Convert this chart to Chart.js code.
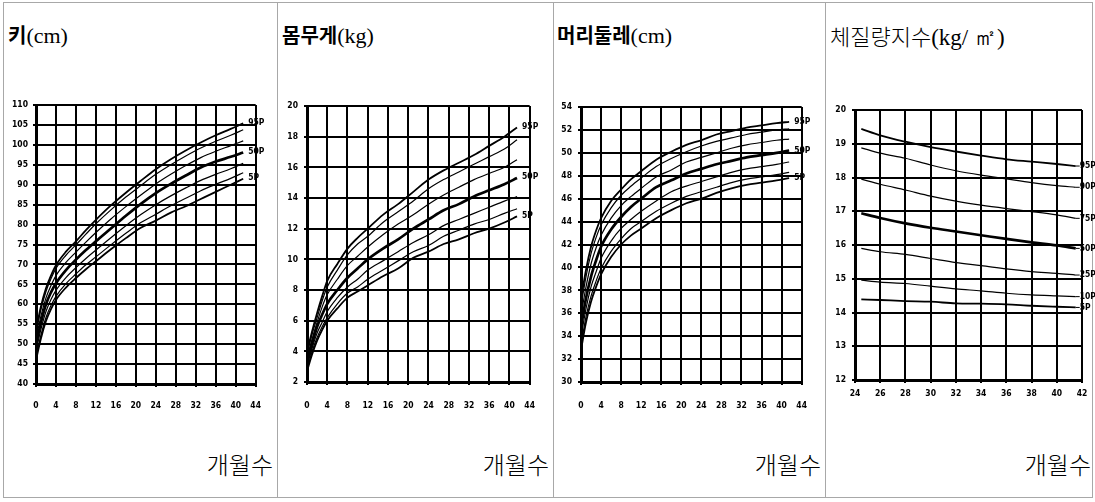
<!DOCTYPE html>
<html lang="ko">
<head>
<meta charset="utf-8">
<title>성장곡선</title>
<script src="https://cdn.jsdelivr.net/npm/chart.js@4.4.1/dist/chart.umd.min.js"></script>
<style>
  html, body { margin: 0; padding: 0; background: #fff; }
  body { position: relative; width: 1095px; height: 502px; overflow: hidden; }
  .frame { position: absolute; left: 3px; top: 2px; width: 1088px; height: 494px; border: 1px solid #a8a8a8; }
  .divider { position: absolute; top: 2px; width: 1px; height: 496px; background: #a8a8a8; }
  .title { position: absolute; top: 21px; white-space: nowrap; color: #000; line-height: 28px; }
  .title .ko { font-family: "Noto Sans CJK KR", sans-serif; font-weight: 700; font-size: 20px; }
  .title .unit { font-family: "Liberation Serif", serif; font-size: 22px; }
  .title.thin .ko { font-weight: 300; font-size: 22px; }
  .title.thin .unit { font-size: 23px; }
  .months { position: absolute; top: 449px; font-family: "Noto Sans CJK KR", sans-serif; font-weight: 300;
            font-size: 24px; line-height: 30px; text-align: right; width: 120px; color: #000; }
  canvas { position: absolute; }
</style>
</head>
<body>
<div class="frame"></div>
<div class="divider" style="left:277px"></div>
<div class="divider" style="left:553px"></div>
<div class="divider" style="left:825px"></div>

<div class="title" style="left:8px"><span class="ko">키</span><span class="unit">(cm)</span></div>
<div class="title" style="left:282px"><span class="ko">몸무게</span><span class="unit">(kg)</span></div>
<div class="title" style="left:557px"><span class="ko">머리둘레</span><span class="unit">(cm)</span></div>
<div class="title thin" style="left:830px"><span class="ko">체질량지수</span><span class="unit">(kg/ ㎡)</span></div>

<div class="months" style="left:153px">개월수</div>
<div class="months" style="left:429px">개월수</div>
<div class="months" style="left:701px">개월수</div>
<div class="months" style="left:971px">개월수</div>

<canvas id="heightChart" width="270" height="330" style="left:5px;top:90px"></canvas>
<canvas id="weightChart" width="272" height="330" style="left:279px;top:90px"></canvas>
<canvas id="headChart" width="268" height="330" style="left:555px;top:90px"></canvas>
<canvas id="bmiChart" width="268" height="330" style="left:827px;top:90px"></canvas>

<script>
// percentile order, top curve first
var percentiles = ['95P', '90P', '75P', '50P', '25P', '10P', '5P'];

// age in months for the 0-41 month curves
var infantAges = [0, 1, 2, 3, 4, 6, 8, 10, 12, 15, 18, 21, 24, 27, 30, 33, 36, 39, 41.5];

// 키 (cm)
var height95 = [53.5, 59.5, 64.0, 67.2, 69.8, 73.2, 75.8, 78.6, 81.2, 84.8, 88.0, 91.0, 93.9, 96.4, 98.6, 100.6, 102.4, 104.0, 105.4];
var height90 = [52.8, 58.7, 63.2, 66.4, 69.0, 72.3, 74.9, 77.6, 80.2, 83.7, 86.9, 89.8, 92.6, 95.0, 97.2, 99.2, 100.9, 102.4, 103.8];
var height75 = [51.3, 57.1, 61.6, 64.7, 67.2, 70.5, 73.1, 75.6, 78.0, 81.4, 84.5, 87.4, 90.2, 92.6, 94.8, 96.8, 98.4, 99.8, 101.0];
var height50 = [49.8, 55.5, 60.0, 63.0, 65.3, 68.6, 71.2, 73.6, 75.8, 79.0, 82.2, 85.2, 87.9, 90.2, 92.3, 94.3, 95.8, 97.0, 98.1];
var height25 = [48.2, 53.8, 58.2, 61.2, 63.5, 66.7, 69.2, 71.5, 73.6, 76.7, 79.7, 82.5, 85.0, 87.2, 89.2, 91.1, 92.6, 94.0, 95.4];
var height10 = [46.8, 52.3, 56.7, 59.7, 62.0, 65.2, 67.6, 69.9, 71.9, 74.9, 77.8, 80.5, 82.6, 84.7, 86.6, 88.5, 90.1, 91.6, 93.0];
var height5 = [46.0, 51.5, 55.8, 58.8, 61.1, 64.2, 66.6, 68.8, 70.8, 73.8, 76.6, 79.2, 81.0, 83.0, 84.6, 86.4, 88.2, 90.0, 91.5];

// 몸무게 (kg)
var weight95 = [4.0, 5.3, 6.5, 7.6, 8.6, 9.7, 10.7, 11.4, 12.0, 12.9, 13.6, 14.4, 15.2, 15.8, 16.3, 16.8, 17.4, 18.0, 18.6];
var weight90 = [3.8, 5.1, 6.2, 7.3, 8.2, 9.3, 10.3, 11.0, 11.5, 12.4, 13.1, 13.8, 14.6, 15.2, 15.7, 16.2, 16.7, 17.2, 17.8];
var weight75 = [3.6, 4.8, 5.9, 6.9, 7.7, 8.7, 9.6, 10.2, 10.8, 11.6, 12.3, 12.9, 13.6, 14.2, 14.7, 15.2, 15.6, 16.0, 16.5];
var weight50 = [3.3, 4.5, 5.6, 6.4, 7.1, 8.0, 8.8, 9.4, 10.0, 10.7, 11.3, 12.0, 12.6, 13.2, 13.6, 14.1, 14.5, 14.9, 15.3];
var weight25 = [3.0, 4.2, 5.2, 5.9, 6.6, 7.5, 8.2, 8.7, 9.3, 9.9, 10.5, 11.1, 11.6, 12.2, 12.6, 13.0, 13.4, 13.8, 14.1];
var weight10 = [2.8, 4.0, 4.9, 5.6, 6.2, 7.1, 7.8, 8.2, 8.7, 9.3, 9.9, 10.5, 10.9, 11.5, 11.9, 12.3, 12.6, 13.0, 13.3];
var weight5 = [2.7, 3.8, 4.7, 5.4, 6.0, 6.8, 7.5, 7.9, 8.3, 8.9, 9.4, 10.1, 10.5, 11.0, 11.3, 11.7, 12.0, 12.4, 12.8];

// 머리둘레 (cm)
var head95 = [37.2, 39.8, 41.8, 43.2, 44.3, 45.8, 46.8, 47.7, 48.4, 49.4, 50.1, 50.7, 51.1, 51.6, 51.9, 52.2, 52.4, 52.6, 52.7];
var head90 = [36.6, 39.2, 41.2, 42.6, 43.7, 45.2, 46.3, 47.1, 47.8, 48.8, 49.5, 50.1, 50.6, 51.0, 51.3, 51.6, 51.8, 52.0, 52.1];
var head75 = [35.8, 38.3, 40.3, 41.7, 42.8, 44.3, 45.4, 46.2, 46.9, 47.9, 48.5, 49.2, 49.6, 50.0, 50.4, 50.7, 50.9, 51.1, 51.2];
var head50 = [34.8, 37.3, 39.2, 40.6, 41.8, 43.3, 44.4, 45.3, 46.0, 47.0, 47.6, 48.2, 48.6, 49.0, 49.3, 49.6, 49.8, 50.0, 50.2];
var head25 = [33.9, 36.4, 38.3, 39.6, 40.8, 42.3, 43.4, 44.2, 44.9, 45.8, 46.6, 47.1, 47.5, 47.9, 48.3, 48.6, 48.8, 49.0, 49.2];
var head10 = [33.2, 35.7, 37.5, 38.8, 39.9, 41.4, 42.5, 43.4, 44.0, 44.9, 45.6, 46.2, 46.6, 47.0, 47.4, 47.7, 47.9, 48.1, 48.3];
var head5 = [32.8, 35.2, 37.0, 38.3, 39.4, 40.9, 42.0, 42.8, 43.4, 44.3, 45.0, 45.6, 46.0, 46.5, 46.9, 47.2, 47.4, 47.6, 47.8];

// 체질량지수 (kg/㎡), 24개월 이후
var bmiAges = [24.5, 26, 28, 30, 32, 34, 36, 38, 40, 41.5];
var bmi95 = [19.44, 19.25, 19.06, 18.90, 18.77, 18.65, 18.54, 18.47, 18.40, 18.34];
var bmi90 = [18.88, 18.72, 18.57, 18.37, 18.20, 18.07, 17.96, 17.85, 17.76, 17.71];
var bmi75 = [17.95, 17.80, 17.63, 17.45, 17.30, 17.18, 17.08, 16.99, 16.89, 16.79];
var bmi50 = [16.94, 16.80, 16.64, 16.51, 16.40, 16.29, 16.18, 16.08, 15.99, 15.90];
var bmi25 = [15.90, 15.80, 15.72, 15.60, 15.48, 15.39, 15.29, 15.21, 15.16, 15.11];
var bmi10 = [14.96, 14.90, 14.86, 14.78, 14.70, 14.64, 14.57, 14.52, 14.49, 14.47];
var bmi5 = [14.39, 14.37, 14.34, 14.32, 14.27, 14.26, 14.24, 14.20, 14.17, 14.15];

var tickFont = { family: "'Liberation Sans Narrow', 'DejaVu Sans Condensed', 'Liberation Sans', sans-serif", size: 8.5, weight: 'bold' };
var lineWidths = { '95P': 1.8, '90P': 1.2, '75P': 1.2, '50P': 2.7, '25P': 1.2, '10P': 1.2, '5P': 1.8 };

// writes the percentile name next to the last point of a curve
var endLabels = {
  id: 'endLabels',
  afterDatasetsDraw: function (chart, args, opts) {
    var ctx = chart.ctx;
    ctx.save();
    ctx.font = 'bold 8.5px ' + tickFont.family;
    ctx.fillStyle = '#000';
    ctx.strokeStyle = '#000';
    ctx.lineWidth = 1;
    ctx.textBaseline = 'middle';
    chart.data.datasets.forEach(function (ds, i) {
      if (opts.show.indexOf(ds.label) < 0) return;
      var pts = chart.getDatasetMeta(i).data;
      var p = pts[pts.length - 1];
      if (opts.dash) {
        ctx.beginPath();
        ctx.moveTo(p.x, p.y);
        ctx.lineTo(p.x + opts.dash, p.y);
        ctx.stroke();
      }
      ctx.fillText(ds.label, p.x + opts.dx, p.y + opts.dy);
    });
    ctx.restore();
  }
};

function drawChart(id, ages, series, cfg) {
  var datasets = series.map(function (vals, k) {
    var name = percentiles[k];
    return {
      label: name,
      data: vals.map(function (v, i) { return { x: ages[i], y: v }; }),
      borderColor: '#000',
      borderWidth: lineWidths[name],
      pointRadius: 0,
      cubicInterpolationMode: 'monotone',
      fill: false
    };
  });

  return new Chart(document.getElementById(id), {
    type: 'line',
    data: { datasets: datasets },
    plugins: [endLabels],
    options: {
      responsive: false,
      animation: false,
      events: [],
      layout: { padding: { top: cfg.padTop, right: cfg.padRight, left: 0, bottom: 0 } },
      plugins: {
        legend: { display: false },
        tooltip: { enabled: false },
        endLabels: { show: cfg.labels, dx: cfg.labelDx, dy: cfg.labelDy, dash: cfg.dash }
      },
      scales: {
        x: {
          type: 'linear',
          min: cfg.xMin,
          max: cfg.xMax,
          afterFit: function (s) { s.height = cfg.xAxisH; },
          ticks: { stepSize: cfg.xStep, font: tickFont, color: '#000', padding: cfg.xPad, maxRotation: 0, autoSkip: false },
          grid: { color: '#000', lineWidth: 2, tickLength: 3 },
          border: { color: '#000', width: 3 }
        },
        y: {
          min: cfg.yMin,
          max: cfg.yMax,
          afterFit: function (s) { s.width = cfg.yAxisW; },
          ticks: { stepSize: cfg.yStep, font: tickFont, color: '#000', padding: cfg.yPad, autoSkip: false },
          grid: { color: '#000', lineWidth: 2, tickLength: 3 },
          border: { color: '#000', width: 3 }
        }
      }
    }
  });
}

var mainLabels = ['95P', '50P', '5P'];

drawChart('heightChart', infantAges,
  [height95, height90, height75, height50, height25, height10, height5],
  { xMin: 0, xMax: 44, xStep: 4, yMin: 40, yMax: 110, yStep: 5,
    yAxisW: 31, xAxisH: 36, padTop: 15, padRight: 15, xPad: 14, yPad: 5,
    labels: mainLabels, labelDx: 5, labelDy: -1, dash: 0 });

drawChart('weightChart', infantAges,
  [weight95, weight90, weight75, weight50, weight25, weight10, weight5],
  { xMin: 0, xMax: 44, xStep: 4, yMin: 2, yMax: 20, yStep: 2,
    yAxisW: 28, xAxisH: 38, padTop: 16, padRight: 17, xPad: 16, yPad: 6,
    labels: mainLabels, labelDx: 5, labelDy: -1, dash: 0 });

drawChart('headChart', infantAges,
  [head95, head90, head75, head50, head25, head10, head5],
  { xMin: 0, xMax: 44, xStep: 4, yMin: 30, yMax: 54, yStep: 2,
    yAxisW: 26, xAxisH: 38, padTop: 17, padRight: 16, xPad: 16, yPad: 6,
    labels: mainLabels, labelDx: 5, labelDy: 0, dash: 0 });

drawChart('bmiChart', bmiAges,
  [bmi95, bmi90, bmi75, bmi50, bmi25, bmi10, bmi5],
  { xMin: 24, xMax: 42, xStep: 2, yMin: 12, yMax: 20, yStep: 1,
    yAxisW: 28, xAxisH: 40, padTop: 20, padRight: 13, xPad: 6, yPad: 6,
    labels: percentiles, labelDx: 4, labelDy: 0, dash: 4 });
</script>
</body>
</html>
